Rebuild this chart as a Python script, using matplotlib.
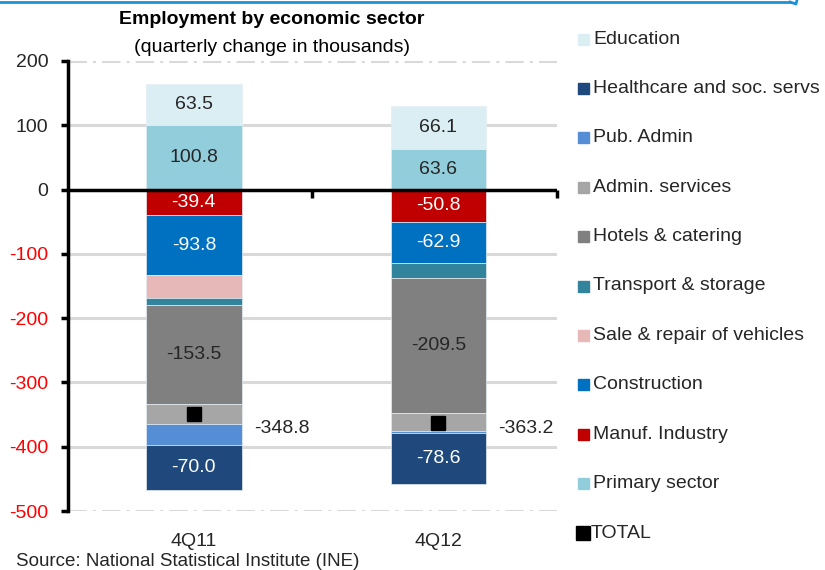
import matplotlib
matplotlib.use("Agg")
import matplotlib.pyplot as plt
from matplotlib.lines import Line2D
from matplotlib.patches import Rectangle
import numpy as np

plt.rcParams["font.family"] = ["Liberation Sans", "DejaVu Sans"]

periods = ["4Q11", "4Q12"]

# quarterly change in employment, thousands
primary_sector = [100.8, 63.6]
education = [63.5, 66.1]
manuf_industry = [-39.4, -50.8]
construction = [-93.8, -62.9]
sale_repair = [-35.5, 0.0]
transport = [-11.0, -24.0]
hotels = [-153.5, -209.5]
admin_services = [-31.0, -29.0]
pub_admin = [-33.0, -2.5]
healthcare = [-70.0, -78.6]
total = [-348.8, -363.2]

yticks = [200, 100, 0, -100, -200, -300, -400, -500]

# (label, values, colour, show value, text colour)
positive = [
    ("Primary sector", primary_sector, "#92CDDC", True, "#262626"),
    ("Education", education, "#DAEEF3", True, "#262626"),
]
negative = [
    ("Manuf. Industry", manuf_industry, "#C00000", True, "white"),
    ("Construction", construction, "#0070C0", True, "white"),
    ("Sale & repair of vehicles", sale_repair, "#E6B9B8", False, None),
    ("Transport & storage", transport, "#31849B", False, None),
    ("Hotels & catering", hotels, "#808080", True, "#262626"),
    ("Admin. services", admin_services, "#A6A6A6", False, None),
    ("Pub. Admin", pub_admin, "#558ED5", False, None),
    ("Healthcare and soc. servs", healthcare, "#1F497D", True, "white"),
]

FS = 14

fig = plt.figure(figsize=(8.25, 5.7), dpi=100)
ax = fig.add_axes([0.0824, 0.1035, 0.5926, 0.7895])

x = np.arange(len(periods)) + 0.015
width = 0.39

for group in (positive, negative):
    base = np.zeros(len(periods))
    for name, vals, color, show, tcol in group:
        vals = np.array(vals)
        ax.bar(x, vals, width, bottom=base, color=color,
               edgecolor="#E4ECF2", linewidth=0.5, zorder=3)
        if show:
            for xi, b, v in zip(x, base, vals):
                ax.text(xi, b + v / 2, f"{v:.1f}", ha="center", va="center",
                        fontsize=FS, color=tcol, zorder=5)
        base = base + vals

ax.plot(x, total, "s", color="black", markersize=10, zorder=6)
label_y = -372
for xi, t in zip(x, total):
    ax.text(xi + width / 2 + 0.05, label_y, f"{t:.1f}", ha="left", va="center",
            fontsize=FS, color="#262626")

ax.set_xlim(-0.5, 1.5)
ax.set_ylim(-500, 200)

# grid
for yv in yticks:
    if yv == 0:
        continue
    ls = (0, (6, 2, 1, 2)) if yv in (200, -500) else "-"
    ax.axhline(yv, color="#D9D9D9", linewidth=2.2, linestyle=ls, zorder=1)

# zero axis with category separators
ax.axhline(0, color="black", linewidth=2.5, zorder=4)
for xb in (0.5, 1.5):
    ax.plot([xb, xb], [0, -13], color="black", linewidth=2.5, zorder=4,
            clip_on=False, solid_capstyle="butt")

for side in ("top", "right", "bottom"):
    ax.spines[side].set_visible(False)
ax.spines["left"].set_linewidth(2.5)
ax.set_yticks(yticks)
ax.set_yticklabels([str(v) for v in yticks], fontsize=FS)
for lbl, v in zip(ax.get_yticklabels(), yticks):
    lbl.set_color("#FF0000" if v < 0 else "#262626")
ax.tick_params(axis="y", length=5, width=2.5, pad=9)
ax.set_xticks([])
for xi, p in zip(x, periods):
    ax.text(xi, -548, p, ha="center", va="center", fontsize=FS,
            color="#262626", clip_on=False)

fig.text(272 / 825, 1 - 20 / 570, "Employment by economic sector",
         ha="center", va="center", fontsize=FS, fontweight="bold")
fig.text(272 / 825, 1 - 47 / 570, "(quarterly change in thousands)",
         ha="center", va="center", fontsize=FS)
fig.text(16 / 825, 1 - 561 / 570, "Source: National Statistical Institute (INE)",
         ha="left", va="center", fontsize=13.5, color="#262626")

# legend drawn in figure pixels
legend_items = [
    ("Education", "#DAEEF3"),
    ("Healthcare and soc. servs", "#1F497D"),
    ("Pub. Admin", "#558ED5"),
    ("Admin. services", "#A6A6A6"),
    ("Hotels & catering", "#808080"),
    ("Transport & storage", "#31849B"),
    ("Sale & repair of vehicles", "#E6B9B8"),
    ("Construction", "#0070C0"),
    ("Manuf. Industry", "#C00000"),
    ("Primary sector", "#92CDDC"),
]
W, H = 825, 570
for i, (name, color) in enumerate(legend_items):
    yc = 39 + i * 49.4
    fig.patches.append(Rectangle((578 / W, 1 - (yc + 5.5) / H), 11 / W, 11 / H,
                                 color=color, transform=fig.transFigure))
    fig.text(593 / W, 1 - yc / H, name, ha="left", va="center", fontsize=FS,
             color="#262626")
yc = 533
fig.patches.append(Rectangle((576 / W, 1 - (yc + 7) / H), 14 / W, 14 / H,
                             color="black", transform=fig.transFigure))
fig.text(591 / W, 1 - yc / H, "TOTAL", ha="left", va="center", fontsize=FS,
         color="#262626")

# blue frame edge along the top
fig.add_artist(Line2D([0, 790 / W], [1 - 2 / H, 1 - 2 / H], color="#1E90D8",
                      linewidth=2, transform=fig.transFigure))
fig.add_artist(Line2D([790 / W, 796 / W, 797 / W], [1 - 2 / H, 1 - 4 / H, 1],
                      color="#1E90D8", linewidth=2, transform=fig.transFigure))

fig.savefig("out.png", dpi=100)
